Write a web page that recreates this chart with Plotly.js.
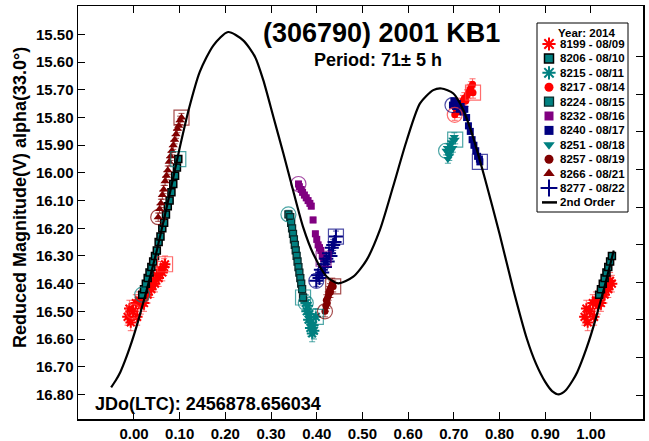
<!DOCTYPE html>
<html><head><meta charset="utf-8">
<script src="https://cdn.plot.ly/plotly-3.0.1.min.js"></script>
<style>html,body{margin:0;padding:0;background:#fff}#chart{width:649px;height:441px}</style>
</head><body><div id="chart"></div>
<script>
// ---- fitted curve (2nd order) ----
const curvePhase = [-0.05,-0.04,-0.03,-0.02,-0.01,0.00,0.01,0.02,0.03,0.04,0.05,0.079,0.10,0.12,0.144,0.174,0.206,0.239,0.265,0.283,0.305,0.327,0.348,0.370,0.392,0.422,0.447,0.480,0.509,0.538,0.567,0.597,0.626,0.655,0.673,0.699,0.72,0.74,0.768,0.80,0.83,0.86,0.88,0.90,0.915,0.93,0.945,0.96,0.97,0.98,0.99,1.00,1.01,1.02,1.03,1.04,1.05];
const curveMag = [16.775,16.75,16.72,16.68,16.635,16.585,16.53,16.47,16.41,16.345,16.28,16.07,15.91,15.77,15.635,15.539,15.491,15.521,15.581,15.665,15.797,15.930,16.062,16.195,16.291,16.375,16.399,16.375,16.315,16.207,16.050,15.882,15.749,15.701,15.695,15.713,15.77,15.86,16.02,16.22,16.42,16.60,16.69,16.755,16.788,16.80,16.785,16.75,16.72,16.68,16.635,16.585,16.53,16.47,16.41,16.345,16.28];

// ---- observations: phase, reduced magnitude, error ----
const s8199Phase = [-0.002,-0.014,-0.010,-0.007,0.004,0.007,0.011,0.015,0.018,0.022,0.026,0.030,0.034,0.038,0.042,0.046,0.050,0.054,0.058,0.062,0.066,0.068];
const s8199Mag   = [16.50,16.52,16.49,16.54,16.47,16.52,16.46,16.48,16.45,16.47,16.43,16.44,16.41,16.42,16.39,16.40,16.37,16.38,16.35,16.36,16.34,16.33];
const s8199Err   = [0.03,0.03,0.03,0.03,0.03,0.03,0.03,0.03,0.03,0.03,0.03,0.03,0.03,0.03,0.03,0.03,0.03,0.03,0.03,0.03,0.03,0.03];

const s8206Phase = [0.018,0.022,0.026,0.030,0.034,0.038,0.042,0.046,0.050,0.054,0.058,0.062,0.066,0.070,0.074,0.078,0.082,0.086,0.090,0.094,0.097];
const s8206Mag   = [16.44,16.42,16.40,16.38,16.36,16.34,16.32,16.30,16.28,16.25,16.23,16.20,16.18,16.15,16.12,16.10,16.07,16.04,16.01,15.98,15.95];
const s8206Err   = [0.012,0.012,0.012,0.012,0.012,0.012,0.012,0.012,0.012,0.012,0.012,0.012,0.012,0.012,0.012,0.012,0.012,0.012,0.012,0.012,0.012];

const s8215Phase = [0.376,0.378,0.380,0.382,0.384,0.386,0.388,0.390,0.392,0.394,0.398];
const s8215Mag   = [16.47,16.50,16.48,16.53,16.51,16.56,16.54,16.58,16.55,16.57,16.52];
const s8215Err   = [0.03,0.03,0.03,0.03,0.03,0.03,0.03,0.03,0.03,0.03,0.03];

const s8217Phase = [0.702,0.705,0.708,0.711,0.714,0.717,0.720,0.723,0.726,0.729,0.732,0.735,0.738,0.741,0.742];
const s8217Mag   = [15.79,15.77,15.78,15.76,15.75,15.76,15.74,15.73,15.74,15.72,15.71,15.70,15.69,15.68,15.71];
const s8217Err   = [0.02,0.02,0.02,0.02,0.02,0.02,0.02,0.02,0.02,0.02,0.02,0.02,0.02,0.02,0.02];

const s8224Phase = [0.338,0.342,0.344,0.346,0.348,0.350,0.352,0.354,0.356,0.358,0.360,0.362,0.364,0.366,0.368,0.370];
const s8224Mag   = [16.15,16.16,16.18,16.20,16.22,16.24,16.26,16.28,16.30,16.32,16.34,16.36,16.38,16.40,16.42,16.45];
const s8224Err   = [0.015,0.015,0.015,0.015,0.015,0.015,0.015,0.015,0.015,0.015,0.015,0.015,0.015,0.015,0.015,0.015];

const s8232Phase = [0.360,0.362,0.366,0.369,0.373,0.377,0.381,0.385,0.388,0.392,0.397,0.400,0.403,0.406,0.409,0.412,0.415];
const s8232Mag   = [16.04,16.05,16.06,16.07,16.08,16.09,16.10,16.11,16.12,16.17,16.22,16.24,16.26,16.27,16.28,16.30,16.31];
const s8232Err   = [0.01,0.01,0.01,0.01,0.01,0.01,0.01,0.01,0.01,0.01,0.01,0.01,0.01,0.01,0.01,0.01,0.01];

const s8240Phase = [0.697,0.700,0.704,0.708,0.712,0.716,0.720,0.724,0.728,0.732,0.736,0.740,0.744,0.748,0.752,0.756,0.757];
const s8240Mag   = [15.755,15.74,15.76,15.75,15.77,15.76,15.78,15.77,15.80,15.83,15.85,15.88,15.90,15.92,15.94,15.95,15.96];
const s8240Err   = [0.01,0.01,0.01,0.01,0.01,0.01,0.01,0.01,0.01,0.01,0.01,0.01,0.01,0.01,0.01,0.01,0.01];

const s8251Phase = [0.683,0.686,0.689,0.692,0.695,0.698,0.701,0.690,0.694,0.698,0.687,0.703];
const s8251Mag   = [15.92,15.91,15.93,15.90,15.89,15.88,15.87,15.94,15.92,15.91,15.95,15.88];
const s8251Err   = [0.015,0.015,0.015,0.015,0.015,0.015,0.015,0.015,0.015,0.015,0.015,0.015];

const s8257Phase = [0.418,0.420,0.421,0.423,0.424,0.426,0.427,0.429,0.430,0.432,0.434,0.436];
const s8257Mag   = [16.50,16.48,16.46,16.47,16.45,16.44,16.43,16.42,16.43,16.41,16.40,16.41];
const s8257Err   = [0.02,0.02,0.02,0.02,0.02,0.02,0.02,0.02,0.02,0.02,0.02,0.02];

const s8266Phase = [0.053,0.056,0.059,0.062,0.065,0.068,0.071,0.074,0.077,0.080,0.083,0.086,0.089,0.092,0.095,0.098,0.101,0.104];
const s8266Mag   = [16.16,16.13,16.11,16.08,16.06,16.03,16.01,15.99,15.96,15.94,15.92,15.90,15.88,15.86,15.84,15.83,15.81,15.80];
const s8266Err   = [0.015,0.015,0.015,0.015,0.015,0.015,0.015,0.015,0.015,0.015,0.015,0.015,0.015,0.015,0.015,0.015,0.015,0.015];

const s8277Phase = [0.399,0.403,0.406,0.409,0.412,0.415,0.418,0.421,0.424,0.427,0.430,0.433,0.436,0.439,0.442];
const s8277Mag   = [16.39,16.37,16.38,16.35,16.36,16.33,16.34,16.31,16.32,16.29,16.30,16.27,16.26,16.25,16.23];
const s8277Err   = [0.02,0.02,0.02,0.02,0.02,0.02,0.02,0.02,0.02,0.02,0.02,0.02,0.02,0.02,0.02];

const seriesLabels = ['8199 - 08/09','8206 - 08/10','8215 - 08/11','8217 - 08/14','8224 - 08/15','8232 - 08/16','8240 - 08/17','8251 - 08/18','8257 - 08/19','8266 - 08/21','8277 - 08/22'];
const legendTitle = 'Year: 2014';
const fitLabel = '2nd Order';
const xTickVals = [0,0.1,0.2,0.3,0.4,0.5,0.6,0.7,0.8,0.9,1.0];
const yTickVals = [15.5,15.6,15.7,15.8,15.9,16.0,16.1,16.2,16.3,16.4,16.5,16.6,16.7,16.8];

// ---- styles ----
const FONT = 'Liberation Sans, Arial, sans-serif';
const styles = [
  {sym:'asterisk-open', col:'#ff0000', line:'#ff0000', lw:2, size:9, eb:'rgba(255,60,60,0.75)'},
  {sym:'square', col:'#008080', line:'#000000', lw:1.5, size:7, eb:'rgba(0,128,128,0.7)'},
  {sym:'asterisk-open', col:'#008080', line:'#008080', lw:2, size:9, eb:'rgba(0,128,128,0.7)'},
  {sym:'circle', col:'#ff0000', line:'#ff0000', lw:0, size:7, eb:'rgba(255,60,60,0.75)'},
  {sym:'square', col:'#008080', line:'#0a2a2a', lw:1.3, size:7, eb:'rgba(0,128,128,0.7)'},
  {sym:'square', col:'#800080', line:'#800080', lw:0, size:7, eb:'rgba(128,0,128,0.7)'},
  {sym:'square', col:'#000080', line:'#000080', lw:0, size:7, eb:'rgba(0,0,128,0.7)'},
  {sym:'triangle-down', col:'#008080', line:'#008080', lw:0, size:8, eb:'rgba(0,128,128,0.7)'},
  {sym:'circle', col:'#800000', line:'#800000', lw:0, size:7, eb:'rgba(128,0,0,0.7)'},
  {sym:'triangle-up', col:'#800000', line:'#800000', lw:0, size:8, eb:'rgba(128,0,0,0.7)'},
  {sym:'cross-thin-open', col:'#000080', line:'#000080', lw:2, size:10, eb:'rgba(0,0,128,0.7)'}
];
const series = [
  [s8199Phase,s8199Mag,s8199Err],[s8206Phase,s8206Mag,s8206Err],[s8215Phase,s8215Mag,s8215Err],
  [s8217Phase,s8217Mag,s8217Err],[s8224Phase,s8224Mag,s8224Err],[s8232Phase,s8232Mag,s8232Err],
  [s8240Phase,s8240Mag,s8240Err],[s8251Phase,s8251Mag,s8251Err],[s8257Phase,s8257Mag,s8257Err],
  [s8266Phase,s8266Mag,s8266Err],[s8277Phase,s8277Mag,s8277Err]
];

// phases near 0 are repeated one cycle later, as in the original plot
const WRAP_LIMIT = 0.05;
function wrapped(ph, mag, err){
  const x=[], y=[], e=[];
  ph.forEach((p,i)=>{ x.push(p); y.push(mag[i]); e.push(err[i]);
    if (p < WRAP_LIMIT){ x.push(p+1); y.push(mag[i]); e.push(err[i]); } });
  return {x,y,e};
}

const traces = [];
series.forEach((s,i)=>{
  const st = styles[i];
  const w = wrapped(s[0], s[1], s[2]);
  traces.push({type:'scatter', mode:'markers', x:w.x, y:w.y, showlegend:false, hoverinfo:'skip',
    error_y:{type:'data', array:w.e, visible:true, color:st.eb, thickness:1, width:3},
    marker:{symbol:st.sym, size:st.size, color:st.col, line:{color:st.line, width:st.lw}}});
});
// first (circle) and last (square) observation of each night, outlined
series.forEach((s,i)=>{
  const st = styles[i];
  const n = s[0].length-1;
  traces.push({type:'scatter', mode:'markers', x:[s[0][0]], y:[s[1][0]], showlegend:false, hoverinfo:'skip',
    marker:{symbol:'circle-open', size:15, color:st.eb, line:{width:1.2}}});
  traces.push({type:'scatter', mode:'markers', x:[s[0][n]], y:[s[1][n]], showlegend:false, hoverinfo:'skip',
    marker:{symbol:'square-open', size:15, color:st.eb, line:{width:1.2}}});
});
traces.push({type:'scatter', mode:'lines', x:curvePhase, y:curveMag, showlegend:false, hoverinfo:'skip',
  line:{color:'#000', width:2.2, shape:'spline', smoothing:0.7}});

// ---- custom legend drawn on a pixel-scaled overlay axis ----
const LX0=537, LX1=628, LY0=23, LY1=212, ROW0=44, ROWH=14.4, SYMX=549, TXTX=558;
const legY = seriesLabels.map((_,i)=>ROW0+i*ROWH);
styles.forEach((st,i)=>{
  traces.push({type:'scatter', mode:'markers', xaxis:'x3', yaxis:'y3', x:[SYMX], y:[legY[i]], showlegend:false, hoverinfo:'skip',
    marker:{symbol:st.sym, size:st.size+2, color:st.col, line:{color:st.line, width:st.lw}}});
});
const fitRowY = ROW0+seriesLabels.length*ROWH;
// right-hand frame ticks (pixel positions, independent of the magnitude scale)
const rightTickPx = [56.7,94.3,131.9,169.5,207.1,244.7,282.3,319.9,357.5,395.1];

const annotations = [
  {text:'(306790) 2001 KB1', xref:'paper', yref:'paper', x:0.537, y:0.9346, xanchor:'center', yanchor:'middle', showarrow:false,
   font:{family:FONT, size:27, weight:'bold', color:'#000'}},
  {text:'Period: 71\u00b1 5 h', xref:'paper', yref:'paper', x:0.5315, y:0.869, xanchor:'center', yanchor:'middle', showarrow:false,
   font:{family:FONT, size:18, weight:'bold', color:'#000'}},
  {text:'JDo(LTC): 2456878.656034', xref:'paper', yref:'paper', x:0.0265, y:0.0363, xanchor:'left', yanchor:'middle', showarrow:false,
   font:{family:FONT, size:18, weight:'bold', color:'#000'}},
  {text:'Reduced Magnitude(V) alpha(33.0\u00b0)', xref:'paper', yref:'paper', x:-0.1027, y:0.5375, xanchor:'center', yanchor:'middle', textangle:-90, showarrow:false,
   font:{family:FONT, size:18, weight:'bold', color:'#000'}},
  {text:legendTitle, xref:'x3', yref:'y3', x:(LX0+LX1)/2+4, y:ROW0-ROWH+3, xanchor:'center', yanchor:'middle', showarrow:false,
   font:{family:FONT, size:11.5, weight:'bold', color:'#000'}}
];
seriesLabels.forEach((t,i)=>annotations.push({text:t, xref:'x3', yref:'y3', x:TXTX, y:legY[i], xanchor:'left', yanchor:'middle', showarrow:false,
   font:{family:FONT, size:11.5, weight:'bold', color:'#000'}}));
annotations.push({text:fitLabel, xref:'x3', yref:'y3', x:TXTX, y:fitRowY, xanchor:'left', yanchor:'middle', showarrow:false,
   font:{family:FONT, size:11.5, weight:'bold', color:'#000'}});

const shapes = [
  {type:'rect', xref:'x3', yref:'y3', x0:LX0, x1:LX1, y0:LY0, y1:LY1, line:{color:'#000', width:1}, fillcolor:'#fff', layer:'below'},
  {type:'line', xref:'x3', yref:'y3', x0:542, x1:557, y0:fitRowY, y1:fitRowY, line:{color:'#000', width:2.5}}
];

const axisCommon = {showline:true, linecolor:'#000', linewidth:1.5, ticks:'inside', ticklen:7, tickwidth:1, tickcolor:'#000',
  showgrid:false, zeroline:false, tickfont:{family:FONT, size:15, weight:'bold', color:'#000'}};
const layout = {
  width:649, height:441, margin:{l:78, r:6, t:6, b:22}, paper_bgcolor:'#fff', plot_bgcolor:'#fff', showlegend:false,
  xaxis:Object.assign({}, axisCommon, {mirror:'ticks', range:[-0.1225,1.114], tickvals:xTickVals, tickformat:'.2f'}),
  yaxis:Object.assign({}, axisCommon, {mirror:true, range:[16.889,15.397], tickvals:yTickVals, tickformat:'.2f'}),
  xaxis3:{overlaying:'x', anchor:'y3', range:[78,643], visible:false, fixedrange:true},
  yaxis3:{overlaying:'y', anchor:'x3', range:[419,6], visible:false, fixedrange:true},
  yaxis4:{overlaying:'y', side:'right', anchor:'x', range:[419,6], showline:false, showgrid:false, zeroline:false,
    ticks:'inside', ticklen:7, tickwidth:1, tickcolor:'#000', tickvals:rightTickPx, showticklabels:false, fixedrange:true},
  annotations, shapes
};
// invisible trace so the right-hand tick axis is drawn
traces.push({type:'scatter', mode:'markers', xaxis:'x', yaxis:'y4', x:[0.5], y:[200], marker:{opacity:0}, showlegend:false, hoverinfo:'skip'});
Plotly.newPlot('chart', traces, layout, {staticPlot:true, displayModeBar:false});
</script></body></html>
